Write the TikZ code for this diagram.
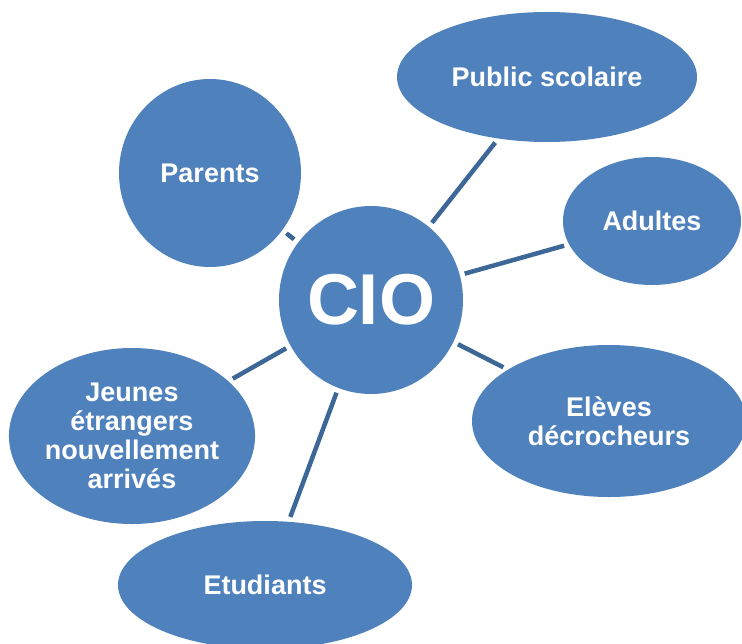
\documentclass[tikz,border=0pt]{standalone}
\usepackage{fontspec}
\setmainfont{Liberation Sans}
\usetikzlibrary{shapes.geometric}
\definecolor{bubble}{HTML}{4F81BD}
\definecolor{linkc}{HTML}{3C6796}
\tikzset{
  bub/.style={ellipse, fill=bubble, draw=none, inner sep=0pt, text=white,
    font=\fontsize{27}{29}\selectfont\bfseries, align=center},
  conn/.style={draw=linkc, line width=4.5pt, shorten <=5pt, shorten >=5pt}
}
\begin{document}
\begin{tikzpicture}[x=1pt,y=-1pt]
\useasboundingbox (0,0) rectangle (742,643);
\begin{scope}
\clip (0,0) rectangle (742,643);
\node[bub, minimum width=184pt, minimum height=188pt, font=\fontsize{72}{72}\selectfont\bfseries] (cio) at (371,300) {CIO};
\node[bub, minimum width=300pt, minimum height=130pt] (pub) at (547,77) {Public scolaire};
\node[bub, minimum width=182pt, minimum height=188pt] (par) at (210,173) {Parents};
\node[bub, minimum width=178pt, minimum height=128pt] (adu) at (652,221) {Adultes};
\node[bub, minimum width=274pt, minimum height=152pt] (ele) at (609,421) {Elèves\\décrocheurs};
\node[bub, minimum width=240pt, minimum height=176pt] (jeu) at (132,436) {Jeunes\\étrangers\\nouvellement\\arrivés};
\node[bub, minimum width=294pt, minimum height=128pt] (etu) at (265,585) {Etudiants};
\draw[conn] (cio) -- (pub);
\draw[conn] (cio) -- (par);
\draw[conn] (cio) -- (adu);
\draw[conn] (cio) -- (ele);
\draw[conn] (cio) -- (jeu);
\draw[conn] (cio) -- (etu);
\end{scope}
\end{tikzpicture}
\end{document}
